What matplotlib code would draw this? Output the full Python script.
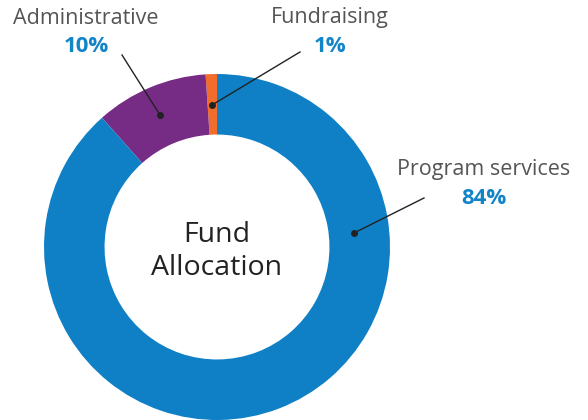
import matplotlib.pyplot as plt

labels = ["Fundraising", "Administrative", "Program services"]
values = [1, 10, 84]
colors = ["#F26C2B", "#762B84", "#0F80C6"]

plt.rcParams['font.family'] = ['Open Sans', 'DejaVu Sans']

fig = plt.figure(figsize=(5.88, 4.2), dpi=100)
ax = fig.add_axes([0, 0, 1, 1])

cx, cy, r = 217, 173, 173
ax.pie(values, colors=colors, startangle=90, counterclock=True,
       center=(cx, cy), radius=r, frame=True,
       wedgeprops=dict(width=r * 0.35, linewidth=0))
ax.set_xlim(0, 588)
ax.set_ylim(0, 420)
ax.set_aspect('equal')
ax.axis('off')

ax.text(cx, 185, "Fund", ha='center', va='center', fontsize=20.5, color='#222222')
ax.text(cx, 152, "Allocation", ha='center', va='center', fontsize=20.5, color='#222222')

# labels: (name, pct text, text x, name y, pct y, line start, dot)
ann = [
    ("Administrative", "10%", 86, 402, 373, (122, 365), (160, 305)),
    ("Fundraising", "1%", 330, 402, 373, (300, 368), (212, 315)),
    ("Program services", "84%", 484, 250, 221, (424, 222), (354, 187)),
]
for name, pct, tx, ny, py, p0, p1 in ann:
    ax.text(tx, ny, name, ha='center', va='center', fontsize=15.5, color='#555555')
    ax.text(tx, py, pct, ha='center', va='center', fontsize=16,
            fontweight='bold', color='#1284C8')
    ax.plot([p0[0], p1[0]], [p0[1], p1[1]], color='#222222', lw=1)
    ax.plot(p1[0], p1[1], 'o', color='#222222', ms=4)

fig.savefig("out.png", dpi=100)
